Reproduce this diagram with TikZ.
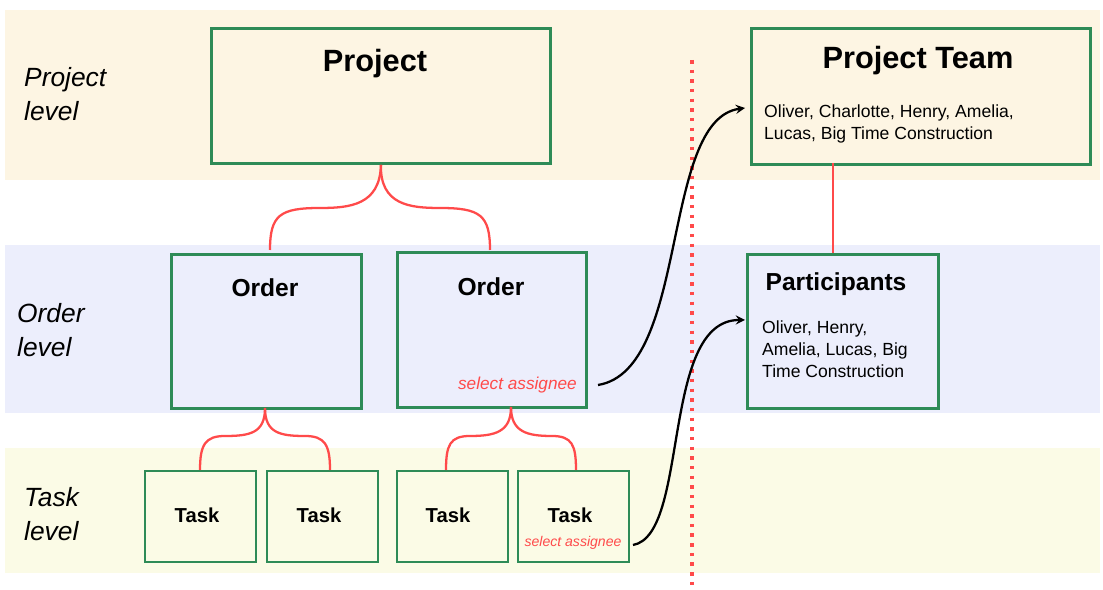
\documentclass[tikz,border=0pt]{standalone}
\usepackage{fontspec}
\setmainfont{Liberation Sans}
\begin{document}
\begin{tikzpicture}[x=0.02cm,y=-0.02cm,
  box/.style={draw=boxg,line width=1.6pt,anchor=north west,inner sep=0pt},
  tbox/.style={draw=boxg,line width=1pt,anchor=north west,inner sep=0pt,minimum width=111*0.02cm,minimum height=91*0.02cm},
  br/.style={draw=redl,line width=1.3pt},
  lvl/.style={font=\itshape\fontsize{15}{19}\selectfont,align=left,anchor=west},
  body/.style={anchor=north west,align=left,font=\fontsize{10}{12.5}\selectfont},
  ttl/.style={font=\bfseries\fontsize{17.5}{20}\selectfont},
  ord/.style={font=\bfseries\fontsize{14}{16}\selectfont},
  tsk/.style={font=\bfseries\fontsize{11.5}{13}\selectfont},
  arr/.style={-stealth,line width=1.3pt}]
\definecolor{boxg}{HTML}{2E8B57}
\definecolor{redl}{HTML}{FF4A4A}
\useasboundingbox (0,0) rectangle (1103,590);
\fill[fill={rgb,255:red,253;green,245;blue,227}] (5,10) rectangle (1100,180);
\fill[fill={rgb,255:red,236;green,238;blue,252}] (5,245) rectangle (1100,413);
\fill[fill={rgb,255:red,251;green,251;blue,230}] (5,448) rectangle (1100,573);
\node[lvl] (l1) at (18,94) {Project\\level};
\node[lvl] (l2) at (11,330) {Order\\level};
\node[lvl] (l3) at (18,514) {Task\\level};
\node[box,minimum width=339*0.02cm,minimum height=135*0.02cm] (proj) at (210,27) {};
\node[ttl] at (375,64) {Project};
\node[box,minimum width=339*0.02cm,minimum height=136*0.02cm] (team) at (750,27) {};
\node[ttl] at (918,61) {Project Team};
\node[body] at (758,99) {Oliver, Charlotte, Henry, Amelia,\\Lucas, Big Time Construction};
\node[box,minimum width=190*0.02cm,minimum height=154*0.02cm] (o1) at (170,253) {};
\node[ord] at (265,288) {Order};
\node[box,minimum width=189*0.02cm,minimum height=155*0.02cm] (o2) at (396,251) {};
\node[ord] at (491,287) {Order};
\node[anchor=east,text=redl,font=\itshape\fontsize{9.8}{12}\selectfont] (sa1) at (583,385) {select assignee};
\node[box,minimum width=191*0.02cm,minimum height=154*0.02cm] (part) at (746,253) {};
\node[ord] at (836,284) {Participants};
\node[body] at (756,315) {Oliver, Henry,\\Amelia, Lucas, Big\\Time Construction};
\node[tbox] (t1) at (144,470) {}; \node[tsk] at (197,515) {Task};
\node[tbox] (t2) at (266,470) {}; \node[tsk] at (319,515) {Task};
\node[tbox] (t3) at (396,470) {}; \node[tsk] at (448,515) {Task};
\node[tbox] (t4) at (517,470) {}; \node[tsk] at (570,515) {Task};
\node[text=redl,font=\itshape\fontsize{8}{9}\selectfont] (sa2) at (573,543) {select assignee};
% braces
\coordinate (b1) at (265,408);
\coordinate (b2) at (511,407);
\draw[br] (proj.south) .. controls (380,205) and (350,208) .. (320,208) .. controls (280,208) and (270,215) .. (270,250);
\draw[br] (proj.south) .. controls (380,205) and (410,208) .. (440,208) .. controls (480,208) and (490,215) .. (490,250);
\draw[br] (b1) .. controls (265,433) and (250,436) .. (225,436) .. controls (205,436) and (200,445) .. (200,470);
\draw[br] (b1) .. controls (265,433) and (280,436) .. (305,436) .. controls (325,436) and (330,445) .. (330,470);
\draw[br] (b2) .. controls (511,432) and (495,436) .. (470,436) .. controls (450,436) and (446,445) .. (446,470);
\draw[br] (b2) .. controls (511,432) and (527,436) .. (552,436) .. controls (572,436) and (576,445) .. (576,470);
\coordinate (c1) at (833,163);
\coordinate (c2) at (833,253);
\draw[br] (c1) -- (c2);
\draw[redl,line width=1.8pt,dash pattern=on 2pt off 3.5pt] (692,60) -- (692,590);
\coordinate (a1) at (745,108);
\coordinate (a2) at (745,320);
\coordinate (s1) at (598,385);
\coordinate (s2) at (633,545);
\draw[arr] (s1) .. controls (690,370) and (660,120) .. (a1);
\draw[arr] (s2) .. controls (690,535) and (660,320) .. (a2);
\end{tikzpicture}
\end{document}
